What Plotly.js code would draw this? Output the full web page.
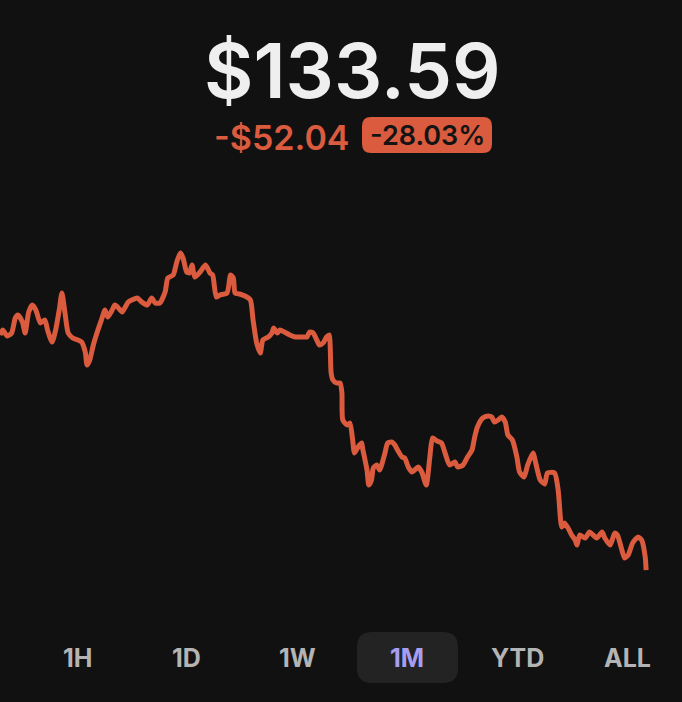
<!DOCTYPE html>
<html>
<head>
<meta charset="utf-8">
<script src="https://cdn.plot.ly/plotly-3.0.1.min.js"></script>
<style>
html,body{margin:0;padding:0;background:#111111;}
#chart{width:682px;height:702px;}
</style>
</head>
<body>
<div id="chart"></div>
<script>
// Hours since start of the 1-month window
const hours = [0,3,8,13,17,20,25,28,32,36,40,45,50,53,58,62,66,69,72,76,81,87,91,95,97,100,104,108,113,117,120,125,128,131,136,139,143,147,153,158,164,169,173,178,184,187,193,197,201,204,208,211,214,217,223,229,234,237,241,245,253,257,260,262,267,273,279,282,286,290,293,299,303,305,309,312,317,323,329,334,338,342,345,349,353,356,360,364,367,368,369,371,375,379,381,382,387,390,393,395,399,403,404,409,411,414,416,420,423,429,432,437,440,443,448,451,455,459,462,466,470,475,479,482,487,492,496,501,507,510,516,521,526,529,532,538,544,548,551,555,559,563,566,571,576,579,584,588,594,597,602,607,610,618,622,626,629,633,637,641,643,646,652,657,661,665,671,674,680,685,688,693,696,700,705,711,715,719,720];
// Price (USD)
const prices = [185.63,186.73,185.40,186.06,189.38,190.05,188.50,186.06,190.71,192.26,191.15,188.28,188.94,186.73,184.07,186.73,191.15,194.92,191.15,186.06,184.95,184.51,184.07,181.86,178.98,180.08,183.41,186.06,188.94,191.15,189.60,191.15,192.26,191.82,190.71,191.60,192.93,193.37,193.81,192.93,192.26,193.81,192.70,192.70,195.14,198.24,198.90,201.78,203.77,202.67,199.57,199.35,201.12,198.46,199.57,201.12,199.35,198.90,194.03,194.48,194.92,198.90,198.24,194.92,194.70,194.25,193.37,188.94,183.85,181.63,184.51,185.18,186.06,187.17,186.06,186.73,186.28,185.62,185.18,185.18,185.18,185.18,186.28,186.06,184.51,183.41,183.85,185.18,185.62,182.96,177.21,175.66,174.99,174.99,172.78,166.80,165.69,166.14,162.37,159.49,160.82,161.71,160.60,155.73,152.41,153.52,156.17,156.84,155.73,159.49,161.71,161.93,161.27,160.16,158.61,158.39,156.39,155.29,155.73,156.39,155.29,152.41,158.61,162.81,162.15,161.71,159.49,156.84,157.50,156.39,156.84,158.61,160.16,163.04,165.25,167.24,167.69,167.46,166.36,166.80,167.46,166.36,163.48,162.37,158.61,155.29,154.18,156.84,159.49,157.28,153.52,152.63,155.07,155.07,151.30,143.11,144.00,142.89,141.34,140.23,139.13,141.34,140.67,142.00,141.34,140.67,142.00,140.67,139.13,141.78,141.34,138.02,136.25,136.91,139.57,140.90,140.23,136.47,133.59];

const priceText = "$133.59";
const changeText = "-$52.04";
const pctText = "-28.03%";
const ranges = ["1H","1D","1W","1M","YTD","ALL"];
const activeRange = "1M";

const W = 682, H = 702;
const px = x => x / W;
const py = y => (H - y) / H;

function roundRect(x0, y0, x1, y1, r) {
  const p = [
    `M${px(x0+r)},${py(y0)}`,
    `L${px(x1-r)},${py(y0)}`,
    `Q${px(x1)},${py(y0)} ${px(x1)},${py(y0+r)}`,
    `L${px(x1)},${py(y1-r)}`,
    `Q${px(x1)},${py(y1)} ${px(x1-r)},${py(y1)}`,
    `L${px(x0+r)},${py(y1)}`,
    `Q${px(x0)},${py(y1)} ${px(x0)},${py(y1-r)}`,
    `L${px(x0)},${py(y0+r)}`,
    `Q${px(x0)},${py(y0)} ${px(x0+r)},${py(y0)}`,
    'Z'
  ];
  return p.join(' ');
}

const orange = '#DA5B3E';
const font = 'Inter, "Open Sans", sans-serif';

const trace = {
  x: hours, y: prices, type: 'scatter', mode: 'lines',
  line: {color: orange, width: 5, shape: 'spline', smoothing: 0.6},
  hoverinfo: 'skip'
};

const annotations = [
  {text: priceText, x: px(352.5), y: py(70), xref: 'paper', yref: 'paper', showarrow: false,
   xanchor: 'center', yanchor: 'middle', font: {family: font, size: 76, color: '#EFEFEF', weight: 600}},
  {text: changeText, x: px(281), y: py(137), xref: 'paper', yref: 'paper', showarrow: false,
   xanchor: 'center', yanchor: 'middle', font: {family: font, size: 34, color: orange, weight: 600}},
  {text: pctText, x: px(427), y: py(135.5), xref: 'paper', yref: 'paper', showarrow: false,
   xanchor: 'center', yanchor: 'middle', font: {family: font, size: 27, color: '#141414', weight: 600}}
];
const btnX = [77, 187, 297, 407, 517, 627];
ranges.forEach((r, i) => {
  annotations.push({text: r, x: px(btnX[i]), y: py(658), xref: 'paper', yref: 'paper', showarrow: false,
    xanchor: 'center', yanchor: 'middle',
    font: {family: font, size: 25, weight: 700, color: r === activeRange ? '#A79EF2' : '#B4B4B4'}});
});

const shapes = [
  {type: 'path', path: roundRect(362, 117, 492, 153, 9), xref: 'paper', yref: 'paper',
   fillcolor: orange, line: {width: 0}, layer: 'below'},
  {type: 'path', path: roundRect(357, 632, 458, 683, 15), xref: 'paper', yref: 'paper',
   fillcolor: '#232323', line: {width: 0}, layer: 'below'}
];

const layout = {
  width: W, height: H,
  margin: {l: 0, r: 0, t: 0, b: 0},
  paper_bgcolor: '#111111', plot_bgcolor: '#111111',
  showlegend: false,
  xaxis: {range: [0, 760], visible: false, fixedrange: true},
  yaxis: {range: [126.95, 215.51], visible: false, fixedrange: true,
          domain: [(H - 600) / H, (H - 200) / H]},
  annotations: annotations,
  shapes: shapes
};

Plotly.newPlot('chart', [trace], layout, {displayModeBar: false, staticPlot: true});
</script>
</body>
</html>
